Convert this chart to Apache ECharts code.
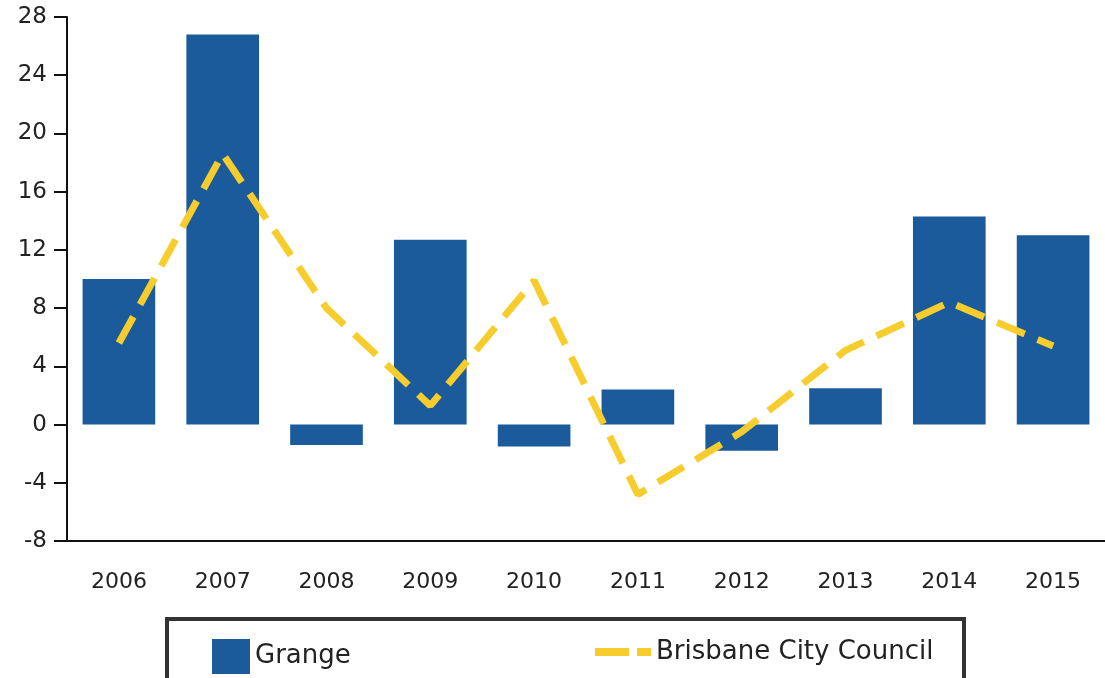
<!DOCTYPE html>
<html>
<head>
<meta charset="utf-8">
<script src="https://cdn.jsdelivr.net/npm/echarts@6/dist/echarts.min.js"></script>
<style>
  html, body { margin: 0; padding: 0; background: #fff; }
</style>
</head>
<body>
<!-- chart area, same size as the window -->
<div id="main" style="width:1105px;height:678px"></div>
<script>
  // categories and values
  var years = ['2006', '2007', '2008', '2009', '2010', '2011', '2012', '2013', '2014', '2015'];
  var grange = [10.0, 26.8, -1.4, 12.7, -1.5, 2.4, -1.8, 2.5, 14.3, 13.0];
  var brisbane = [5.6, 18.6, 8.0, 1.3, 9.9, -4.8, -0.5, 5.1, 8.4, 5.4];
  var yTicks = { min: -8, max: 28, step: 4 };

  var barColor = '#1b5b9c';
  var lineColor = '#f6cd2c';
  var font = 'DejaVu Sans';

  var myChart = echarts.init(document.getElementById('main'));
  myChart.setOption({
    backgroundColor: '#fff',
    animation: false,
    grid: { left: 67, right: -7, top: 17, bottom: 137 },
    xAxis: {
      type: 'category',
      data: years,
      axisLine: { onZero: false, lineStyle: { color: '#111', width: 2 } },
      axisTick: { alignWithLabel: true, length: 14, lineStyle: { color: '#111', width: 2 } },
      axisLabel: { margin: 30, fontSize: 22, color: '#222', fontFamily: font }
    },
    yAxis: {
      type: 'value',
      min: yTicks.min,
      max: yTicks.max,
      interval: yTicks.step,
      splitLine: { show: false },
      axisLine: { show: true, lineStyle: { color: '#111', width: 2 } },
      axisTick: { show: true, length: 13, lineStyle: { color: '#111', width: 2 } },
      axisLabel: { margin: 20, fontSize: 23, color: '#222', fontFamily: font }
    },
    // legend box
    graphic: [{
      type: 'rect',
      left: 165, top: 617,
      shape: { width: 797, height: 70 },
      style: { fill: '#fff', stroke: '#333', lineWidth: 4 }
    }],
    legend: [{
      data: [{ name: 'Grange', icon: 'rect' }],
      left: 207, top: 634,
      itemWidth: 38, itemHeight: 35,
      itemGap: 12,
      textStyle: { fontSize: 26, color: '#222', fontFamily: font }
    }, {
      data: [{ name: 'Brisbane City Council', icon: 'path://M0,0H34V8H0Z M42,0H56V8H42Z' }],
      left: 590, top: 634,
      itemWidth: 56, itemHeight: 8,
      itemGap: 10,
      textStyle: { fontSize: 26, color: '#222', fontFamily: font }
    }],
    series: [{
      name: 'Grange',
      type: 'bar',
      data: grange,
      barCategoryGap: '30%',
      itemStyle: { color: barColor }
    }, {
      name: 'Brisbane City Council',
      type: 'line',
      data: brisbane,
      symbol: 'none',
      z: 5,
      lineStyle: { color: lineColor, width: 7, type: [30, 14] },
      itemStyle: { color: lineColor }
    }]
  });
</script>
</body>
</html>
